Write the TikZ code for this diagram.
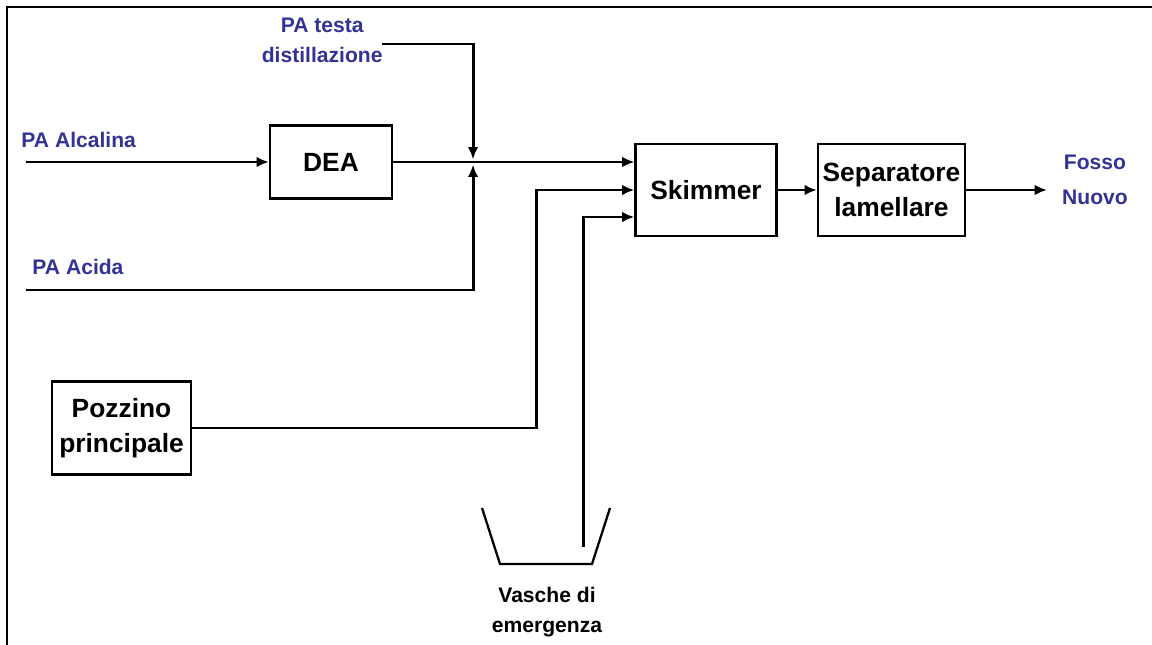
\documentclass[tikz,border=0pt]{standalone}
\usepackage{fontspec}
\setmainfont{Liberation Sans}
\usetikzlibrary{calc}
\usetikzlibrary{arrows.meta}
\definecolor{labelblue}{RGB}{51,51,150}

\begin{document}
\begin{tikzpicture}[x=0.02cm, y=-0.02cm, line width=1.7pt,
  flow/.style={-{Latex[length=7pt,width=6pt]}},
  block/.style={draw, line width=1.3pt, font=\fontsize{15}{20}\selectfont\bfseries, align=center, inner sep=0pt},
  inlet/.style={text=labelblue, font=\fontsize{12}{17}\selectfont\bfseries, align=center, inner sep=0pt},
  note/.style={font=\fontsize{12}{17}\selectfont\bfseries, align=center, inner sep=0pt}]

\useasboundingbox (0,0) rectangle (1152,645);

% --- Cornice ---
\draw [line width=1.7pt] (7,645) -- (7,7) -- (1152,7);

% --- Blocchi ---
\node [block, minimum width=2.44cm, minimum height=1.46cm] (dea) at (331,162) {DEA};
\node [block, minimum width=2.82cm, minimum height=1.84cm] (skim) at (706,190) {Skimmer};
\node [block, minimum width=2.94cm, minimum height=1.84cm] (sep) at (891.5,190) {Separatore\\lamellare};
\node [block, minimum width=2.78cm, minimum height=1.86cm] (pozz) at (121.5,428) {Pozzino\\principale};

% --- Etichette ---
\node [inlet, anchor=west] (alcl) at (20,140) {PA Alcalina};
\node [inlet, anchor=west] (acdl) at (31,267) {PA Acida};
\node [inlet, anchor=east] (distl) at (384,40) {PA testa\\distillazione};
\node [inlet, font=\fontsize{12}{20}\selectfont\bfseries] (fosl) at (1095,180) {Fosso\\Nuovo};
\node [note] (vasl) at (547,612) {Vasche di\\emergenza};

% --- Punti ---
\coordinate (alc) at (26,162);
\coordinate (acd) at (26,290);
\coordinate (dist) at (382,44);
\coordinate (jn) at (473,162);
\coordinate (k1) at (536,190);
\coordinate (vin) at (583,547);
\coordinate (out) at (1047,190);

% --- Linee ---
\draw [flow] (alc) -- (dea.west);
\draw [flow, shorten >=1.5pt] (dist) -| (jn);
\draw [flow, shorten >=1.5pt] (acd) -| (jn);
\draw [flow, line width=1.2pt] (dea.east) -- (skim.west |- dea.east);
\draw [flow] (pozz.east) -| (k1) -- (skim.west);
\draw [flow] (vin) |- ($(skim.west)+(0,27)$);
\draw [flow] (skim) -- (sep);
\draw [flow] (sep) -- (out);

% vasca
\draw [line width=1.3pt] (482,508) -- (500,564) -- (592,564) -- (610,508);

\end{tikzpicture}
\end{document}
